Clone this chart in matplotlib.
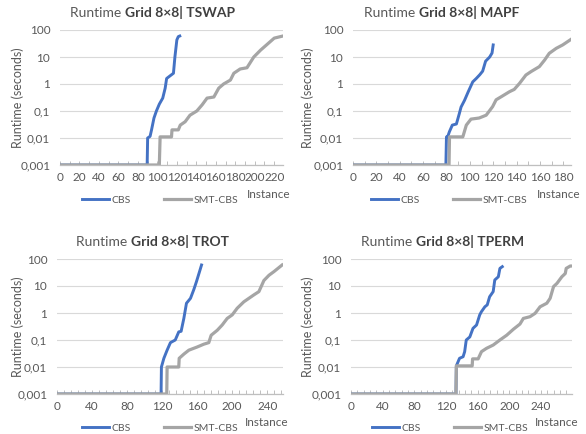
import matplotlib
matplotlib.use('Agg')
import matplotlib.pyplot as plt
from matplotlib.ticker import FixedLocator, MultipleLocator

plt.rcParams['font.family'] = ['Lato', 'DejaVu Sans']

# TSWAP
tswap_cbs_x = [0, 89.5, 90, 92.5, 94, 96.5, 99, 102, 105.5, 108, 109.5, 113, 116.5, 118, 120, 121.5, 123]
tswap_cbs_y = [0.001, 0.001, 0.01, 0.0115, 0.02, 0.055, 0.1, 0.18, 0.3, 0.7, 1.6, 2.0, 2.5, 10, 43, 57, 60]
tswap_smt_x = [0, 102, 102.8, 114.5, 115, 121.5, 123.5, 128.5, 133.5, 140.5, 146, 151, 158, 163, 168, 175, 178.5,
               185, 192, 199, 206, 213, 220, 229]
tswap_smt_y = [0.001, 0.001, 0.011, 0.011, 0.02, 0.02, 0.03, 0.04, 0.07, 0.1, 0.17, 0.3, 0.33, 0.7, 1.0, 1.4, 2.5,
               3.6, 4.0, 10, 18, 30, 50, 60]

# MAPF
mapf_cbs_x = [0, 79.5, 80, 81, 82.5, 85, 88.5, 91, 92.5, 95.5, 98.5, 102.5, 105.5, 108.5, 111, 113.5, 117, 119, 120]
mapf_cbs_y = [0.001, 0.001, 0.011, 0.011, 0.017, 0.03, 0.033, 0.08, 0.14, 0.25, 0.5, 1.2, 1.6, 2.2, 3.0, 7, 10, 14, 28]
mapf_smt_x = [0, 82.2, 82.6, 94, 97, 101, 108, 114, 119.5, 122.5, 127, 134, 138, 142.5, 148, 152.5, 159.5, 164, 168,
              174, 179.5, 186.6]
mapf_smt_y = [0.001, 0.001, 0.011, 0.011, 0.03, 0.05, 0.055, 0.07, 0.145, 0.26, 0.34, 0.52, 0.63, 1.05, 2.15, 2.9,
              4.4, 7.7, 13.7, 21, 28, 45]

# TROT
trot_cbs_x = [0, 118.8, 119.2, 122, 125.7, 129.5, 135, 139, 141.7, 144.8, 147.8, 152.4, 156.2, 159.2, 162.7, 165]
trot_cbs_y = [0.001, 0.001, 0.01, 0.021, 0.042, 0.08, 0.1, 0.2, 0.21, 0.63, 2.3, 3.5, 7.4, 14.5, 34, 60]
trot_smt_x = [0, 125.3, 125.7, 139, 139.5, 144.8, 150.5, 160, 167.6, 173.3, 176, 183, 188.6, 194.3, 200, 205.7, 213.3,
              224.8, 230.5, 236.2, 242, 247.6, 257]
trot_smt_y = [0.001, 0.001, 0.01, 0.01, 0.021, 0.03, 0.042, 0.055, 0.07, 0.08, 0.15, 0.23, 0.36, 0.63, 0.85, 1.5, 2.6,
              4.7, 6.2, 16, 25, 34, 60]

# TPERM
tperm_cbs_x = [0, 132.5, 133, 137, 141.5, 143.5, 145.5, 150, 154, 158.5, 162.5, 164.5, 169, 172, 175, 179.5, 181.5,
               186, 188, 191]
tperm_cbs_y = [0.001, 0.001, 0.011, 0.021, 0.024, 0.037, 0.1, 0.13, 0.27, 0.36, 0.85, 1.1, 1.7, 2.0, 4.0, 6.2, 16.7,
               22, 45, 52]
tperm_smt_x = [0, 132.5, 133, 153, 153.5, 160.5, 164.7, 171, 179.5, 188, 196.5, 205, 213.3, 217.6, 226, 232.4, 238.7,
               247.2, 251.4, 255.7, 260, 266.2, 270.5, 271.7, 276.8, 279]
tperm_smt_y = [0.001, 0.001, 0.011, 0.011, 0.02, 0.02, 0.037, 0.049, 0.065, 0.1, 0.15, 0.25, 0.39, 0.63, 0.73, 0.97,
               1.7, 2.3, 3.5, 9.5, 12.5, 22, 29, 45, 55, 55]

y_ticks = [0.001, 0.01, 0.1, 1, 10, 100]
y_tick_labels = ['0,001', '0,01', '0,1', '1', '10', '100']
series_names = ['CBS', 'SMT-CBS']

BLUE = '#4472C4'
GREY = '#A5A5A5'
TEXT = '#595959'

W, H = 586, 434


def fx(px):
	return px / W


def fy(py):
	return 1 - py / H


def panel(fig, rect, name, xmax, label_step, minor_step, cbs_x, cbs_y, smt_x, smt_y, title_x, title_y,
		  ylab_x, leg_x, leg_y, inst_x, inst_y):
	left, top, right, bottom = rect
	ax = fig.add_axes([fx(left), fy(bottom), (right - left) / W, (bottom - top) / H])
	ax.plot(cbs_x, cbs_y, color=BLUE, lw=2.1, label=series_names[0], solid_joinstyle='round')
	ax.plot(smt_x, smt_y, color=GREY, lw=2.3, label=series_names[1], solid_joinstyle='round')
	ax.set_yscale('log')
	ax.set_ylim(0.001, 100)
	ax.set_xlim(0, xmax)
	ax.yaxis.set_major_locator(FixedLocator(y_ticks))
	ax.yaxis.set_minor_locator(FixedLocator([]))
	ax.set_yticklabels(y_tick_labels)
	ax.xaxis.set_major_locator(MultipleLocator(label_step))
	ax.xaxis.set_minor_locator(MultipleLocator(minor_step))
	ax.grid(axis='y', color='#D9D9D9', lw=0.8)
	ax.set_axisbelow(True)
	for s in ['top', 'right', 'left']:
		ax.spines[s].set_visible(False)
	ax.spines['bottom'].set_color('#BFBFBF')
	ax.spines['bottom'].set_linewidth(0.9)
	ax.tick_params(axis='y', length=0, pad=7, labelsize=8.5, labelcolor=TEXT)
	ax.tick_params(axis='x', which='both', direction='in', length=3, color='#BFBFBF', width=0.7,
				   pad=5, labelsize=8.5, labelcolor=TEXT)

	# title: normal + bold part
	t1 = fig.text(fx(title_x), fy(title_y), 'Runtime ', fontsize=10, color=TEXT, va='baseline', ha='left')
	ax.annotate('Grid 8×8| ' + name, xy=(1, 0), xycoords=t1, va='bottom', ha='left',
				fontsize=10, fontweight='bold', color='#404040')

	fig.text(fx(ylab_x), fy((top + bottom) / 2), 'Runtime (seconds)', rotation=90, fontsize=9,
			 color=TEXT, ha='center', va='center')
	fig.text(fx(inst_x), fy(inst_y), 'Instance', fontsize=8.5, color=TEXT, ha='right', va='center')
	leg = ax.legend(loc='center', bbox_to_anchor=(fx(leg_x), fy(leg_y)), bbox_transform=fig.transFigure,
					ncol=2, frameon=False, fontsize=7.5, handlelength=2.6, handletextpad=0.2, columnspacing=3.2)
	for t in leg.get_texts():
		t.set_color(TEXT)
	return ax


def main():
	fig = plt.figure(figsize=(5.86, 4.34), dpi=100)

	panel(fig, (60, 30, 283, 165), 'TSWAP', 229, 20, 10, tswap_cbs_x, tswap_cbs_y, tswap_smt_x, tswap_smt_y,
		  70, 17, 18, 160, 200, 290, 195)
	panel(fig, (353, 30, 571, 165), 'MAPF', 186.6, 20, 10, mapf_cbs_x, mapf_cbs_y, mapf_smt_x, mapf_smt_y,
		  364, 17, 308, 449, 200, 580, 195)
	panel(fig, (57, 259, 283, 394), 'TROT', 258, 40, 8, trot_cbs_x, trot_cbs_y, trot_smt_x, trot_smt_y,
		  76, 246, 18, 160, 428, 289, 423)
	panel(fig, (351, 259, 572, 394), 'TPERM', 279, 40, 8, tperm_cbs_x, tperm_cbs_y, tperm_smt_x, tperm_smt_y,
		  361, 246, 308, 450, 428, 579, 423)

	plt.savefig('out.png', dpi=100)


if __name__ == '__main__':
	main()
